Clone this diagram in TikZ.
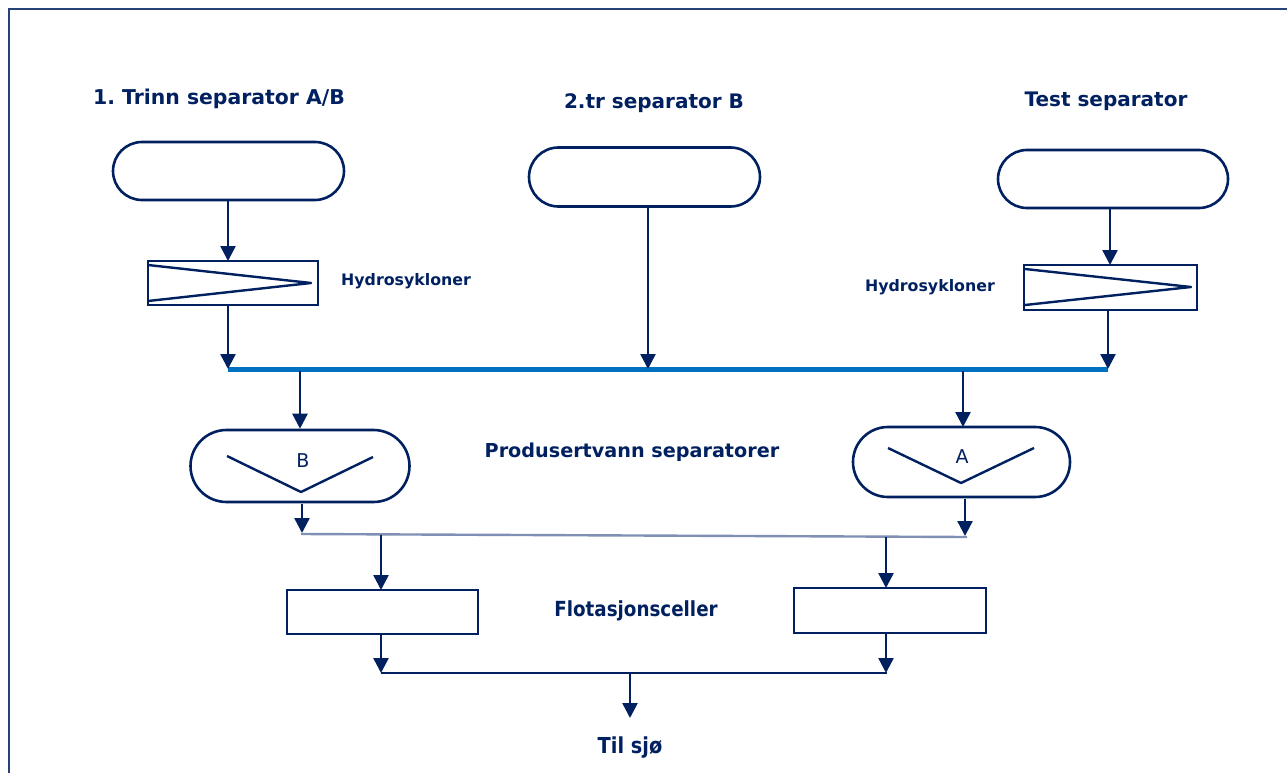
\documentclass[tikz,border=0pt]{standalone}
\usepackage{fontspec}
\setmainfont{DejaVu Sans}
\newfontfamily\condfont[FakeStretch=0.88]{DejaVu Sans}
\usetikzlibrary{arrows.meta,calc}
\definecolor{navy}{RGB}{0,32,96}
\definecolor{hdrblue}{RGB}{0,112,192}
\definecolor{slate}{RGB}{128,144,180}
\begin{document}
\begin{tikzpicture}[x=1pt,y=-1pt,
  arr/.style={draw=navy,line width=2.5pt,-{Triangle[length=15pt,width=15pt]}},
  capsule/.style={draw=navy,line width=2.6pt,rounded corners=#1,inner sep=0pt},
  boxnode/.style={draw=navy,line width=2.6pt,inner sep=0pt},
  vline/.style={draw=navy,line width=2.4pt,line join=round},
  title/.style={text=navy,font=\bfseries\fontsize{20}{24}\selectfont,inner sep=0pt},
  small/.style={text=navy,font=\bfseries\fontsize{15.8}{18}\selectfont,inner sep=0pt},
  cond/.style={text=navy,font=\condfont\bfseries\fontsize{20.8}{24}\selectfont,inner sep=0pt},
  letter/.style={text=navy,font=\fontsize{19}{22}\selectfont,inner sep=0pt}]
\useasboundingbox (0,0) rectangle (1287,773);
% frame
\draw[navy!85!white,line width=2.2pt] (9,773) -- (9,9) -- (1287,9);
% titles
\node[title,font=\bfseries\fontsize{20.4}{24}\selectfont] (t1) at (219,99) {\frenchspacing 1. Trinn separator A/B};
\node[title] (t2) at (654,103) {2.tr separator B};
\node[title] (t3) at (1106,101) {Test separator};
% separators
\node[capsule=29pt,minimum width=231pt,minimum height=58pt] (sep1) at (228.5,171) {};
\node[capsule=29.5pt,minimum width=231pt,minimum height=59pt] (sep2) at (644.5,177) {};
\node[capsule=29pt,minimum width=230pt,minimum height=58pt] (sep3) at (1113,179) {};
% hydrocyclones
\node[boxnode,minimum width=170pt,minimum height=44pt] (hyd1) at (233,283) {};
\draw[vline] (148,265) -- (311,283) -- (148,301);
\node[small,anchor=west] (hl1) at (341,281) {Hydrosykloner};
\node[boxnode,minimum width=173pt,minimum height=45pt] (hyd3) at (1110.5,287.5) {};
\draw[vline] (1025,269) -- (1191,287) -- (1025,305);
\node[small,anchor=east] (hl3) at (995,287) {Hydrosykloner};
% header 1
\coordinate (h1L) at (228,369);
\coordinate (h1M) at (648,369);
\coordinate (h1R) at (1108,369);
\draw[hdrblue,line width=5pt] (h1L) -- (h1R);
\draw[arr] (228,200) -- (228,261);
\draw[arr] (hyd1.south -| h1L) -- (h1L);
\draw[arr] (sep2.south -| h1M) -- (h1M);
\draw[arr] (1110,208) -- (1110,265);
\draw[arr] (hyd3.south -| h1R) -- (h1R);
% produced water separators
\node[capsule=36pt,minimum width=219pt,minimum height=72pt] (sepB) at (300,466) {};
\draw[vline] (227,456) -- (301,492) -- (373,457);
\node[letter] (lB) at (303,461) {B};
\node[capsule=35pt,minimum width=217pt,minimum height=70pt] (sepA) at (961.5,462) {};
\draw[vline] (888,448) -- (961,483) -- (1034,448);
\node[letter] (lA) at (962,457) {A};
\node[title,font=\bfseries\fontsize{19.2}{22}\selectfont] (pw) at (632,452) {Produsertvann separatorer};
\draw[arr] (300,371) -- (sepB.north);
\draw[arr] (963,371) -- (963,427);
% header 2
\coordinate (h2L) at (301,534);
\coordinate (h2R) at (967,537);
\draw[slate,line width=2.4pt] (h2L) -- (h2R);
\draw[arr] (302,504) -- (302,533);
\draw[arr] (965,499) -- (965,536);
% flotation cells
\node[boxnode,minimum width=191pt,minimum height=44pt] (flotL) at (382.5,612) {};
\node[boxnode,minimum width=192pt,minimum height=45pt] (flotR) at (890,610.5) {};
\node[cond] (fc) at (636,611) {Flotasjonsceller};
\draw[arr] (381,535) -- (381,590);
\draw[arr] (886,537) -- (886,588);
% header 3
\coordinate (h3L) at (381,673);
\coordinate (h3M) at (630,673);
\coordinate (h3R) at (887,673);
\draw[navy,line width=2.8pt] (h3L) -- (h3R);
\draw[arr] (381,634) -- (h3L);
\draw[arr] (886,633) -- (886,673);
\draw[arr] (h3M) -- (630,718);
\node[cond,font=\condfont\bfseries\fontsize{22}{26}\selectfont] (sea) at (630,748) {Til sjø};
\end{tikzpicture}
\end{document}
